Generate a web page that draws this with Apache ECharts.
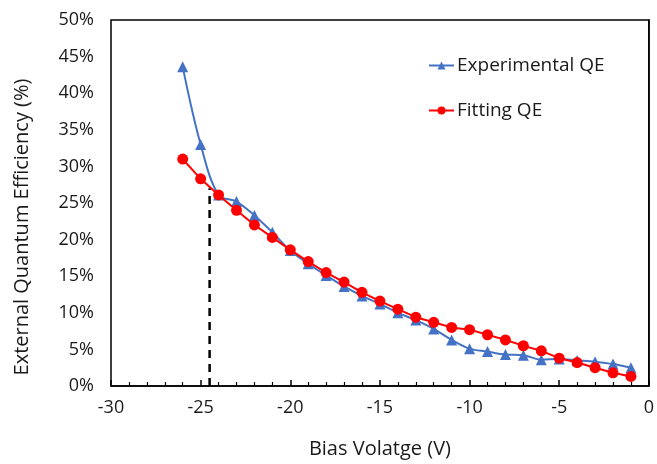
<!DOCTYPE html>
<html>
<head>
<meta charset="utf-8">
<script src="https://cdn.jsdelivr.net/npm/echarts@6/dist/echarts.min.js"></script>
<style>html,body{margin:0;padding:0;background:#fff}#c{width:657px;height:464px}</style>
</head>
<body>
<div id="c"></div>
<script>
const biasV = [-26,-25,-24,-23,-22,-21,-20,-19,-18,-17,-16,-15,-14,-13,-12,-11,-10,-9,-8,-7,-6,-5,-4,-3,-2,-1];
const experimentalQE = [43.6,33.0,26.1,25.2,23.3,21.0,18.5,16.7,15.1,13.6,12.3,11.2,10.0,9.0,7.8,6.3,5.1,4.7,4.3,4.2,3.6,3.7,3.5,3.3,3.0,2.5];
const fittingQE = [31.0,28.3,26.1,24.0,22.0,20.3,18.6,17.0,15.5,14.2,12.8,11.6,10.5,9.4,8.7,8.0,7.7,7.0,6.3,5.5,4.8,3.8,3.2,2.5,1.8,1.3];
const markerX = [-24.5,-24.5];
const markerY = [0,27];

const FONT = 'Open Sans';
const TXT = '#1a1a1a';
const chart = echarts.init(document.getElementById('c'));
chart.setOption({
  animation:false,
  backgroundColor:'#fff',
  grid:{left:111,right:6,top:20,bottom:72,show:true,borderColor:'#000',borderWidth:1.5,backgroundColor:'transparent'},
  legend:{
    orient:'vertical',left:423,top:51,itemGap:26,itemWidth:25,itemHeight:10,
    data:['Experimental QE','Fitting QE'],
    textStyle:{fontFamily:FONT,fontSize:19,color:TXT,padding:[0,0,0,-2]}
  },
  xAxis:{
    type:'value',min:-30,max:0,interval:5,
    name:'Bias Volatge (V)',nameLocation:'middle',nameGap:53,
    nameTextStyle:{fontFamily:FONT,fontSize:20,color:TXT},
    axisLine:{show:true,lineStyle:{color:'#000',width:1.5}},
    axisTick:{show:true,inside:true,length:6,lineStyle:{color:'#000',width:1.5}},
    minorTick:{show:true,splitNumber:5,length:4,lineStyle:{color:'#000',width:1.2}},
    axisLabel:{fontFamily:FONT,fontSize:18,color:TXT,margin:13},
    splitLine:{show:false}
  },
  yAxis:{
    type:'value',min:0,max:50,interval:5,
    name:'External Quantum Efficiency (%)',nameLocation:'middle',nameGap:79,
    nameTextStyle:{fontFamily:FONT,fontSize:20,color:TXT,padding:[0,48,0,0]},
    axisLine:{show:true,lineStyle:{color:'#000',width:1.5}},
    axisTick:{show:false},
    axisLabel:{fontFamily:FONT,fontSize:18,color:TXT,margin:17,formatter:'{value}%'},
    splitLine:{show:false}
  },
  series:[
    {
      name:'Experimental QE',type:'line',smooth:0.35,
      data:biasV.map((v,i)=>[v,experimentalQE[i]]),
      symbol:'triangle',symbolSize:11,
      itemStyle:{color:'#4472C4'},lineStyle:{color:'#4472C4',width:2},z:2
    },
    {
      name:'Fitting QE',type:'line',
      data:biasV.map((v,i)=>[v,fittingQE[i]]),
      symbol:'circle',symbolSize:11,
      itemStyle:{color:'#FF0000'},lineStyle:{color:'#FF0000',width:2},z:3
    },
    {
      name:'marker',type:'line',
      data:markerX.map((v,i)=>[v,markerY[i]]),
      symbol:'none',lineStyle:{color:'#000',width:2.5,type:[8,6]},z:1,
      silent:true
    }
  ]
});
</script>
</body>
</html>
